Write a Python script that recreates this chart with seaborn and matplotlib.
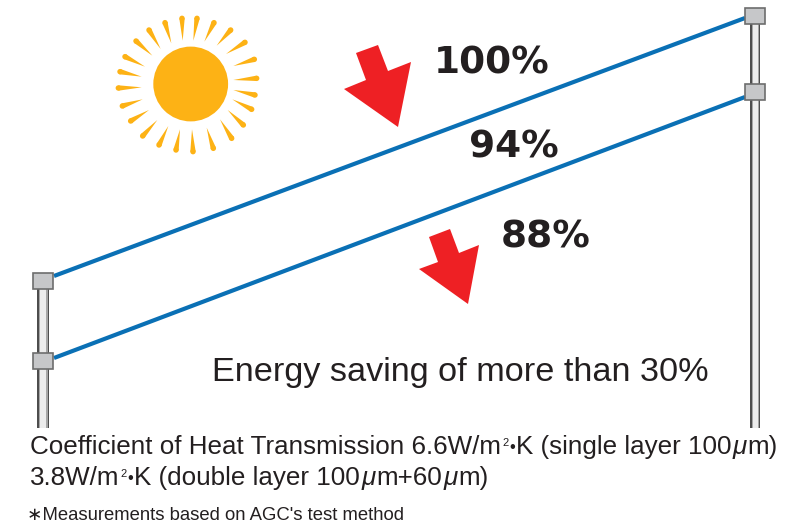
import pandas as pd
import matplotlib
matplotlib.use('Agg')
import matplotlib.pyplot as plt
import seaborn as sns
from matplotlib.patches import Polygon, Circle, Rectangle

sns.set_theme(style='white')
plt.rcParams['font.family'] = ['Liberation Sans', 'DejaVu Sans']

INK = '#231f20'
SUN = '#fdb215'
RED = '#ee2024'

# glass layers, left and right end
layer_names = ['single', 'double']
layer_x = [54, 745]
single_y = [276, 18]
double_y = [358, 97]

# posts
post_x = [43, 755]
post_w = [12, 10]
post_bottom = [428, 428]
post_top = [281, 16]

# brackets
bracket_x = [43, 43, 755, 755]
bracket_y = [281, 361, 16, 92]

# arrows
arrow1_x = [356, 378, 388, 411, 398, 344, 366]
arrow1_y = [53, 45, 71, 62, 127, 89, 80]
arrow2_x = [429, 450, 459, 479, 468, 419, 438]
arrow2_y = [237, 229, 253, 245, 304, 269, 262]

# percent labels
pct_labels = ['100%', '94%', '88%']
pct_x = [492, 514, 546]
pct_y = [63, 148, 238]

ray_tip_x = [246, 291, 342, 392, 435, 463, 470, 465, 455, 430, 395, 340, 279, 228, 177, 128, 92, 67, 55, 60, 75, 108, 147, 195]
ray_tip_y = [55, 55, 68, 90, 127, 178, 235, 285, 328, 375, 415, 445, 455, 450, 435, 408, 363, 318, 264, 215, 170, 123, 90, 68]
ray_in_x = [248, 280, 313, 350, 378, 400, 400, 400, 397, 383, 360, 320, 276, 240, 205, 172, 147, 128, 125, 125, 135, 157, 182, 214]
ray_in_y = [122, 122, 125, 137, 162, 198, 240, 270, 298, 330, 358, 383, 388, 388, 378, 360, 330, 298, 262, 230, 200, 167, 147, 130]
sun_x, sun_y, sun_r = 190.7, 84, 37.4

df = pd.DataFrame({
    'x': layer_x * 2,
    'y': single_y + double_y,
    'layer': [layer_names[0]] * 2 + [layer_names[1]] * 2,
})

fig = plt.figure(figsize=(8.10, 5.26), dpi=100)
ax = fig.add_axes([0, 0, 1, 1])
ax.set_xlim(0, 810)
ax.set_ylim(526, 0)
ax.axis('off')

# posts first so the brackets sit on top
for x, w, b, t in zip(post_x, post_w, post_bottom, post_top):
    ax.add_patch(Rectangle((x - w / 2, t), w, b - t, fc='#4d4d4d', ec='none', zorder=1))
    ax.add_patch(Rectangle((x - w / 2 + 1.5, t), w - 3, b - t, fc='#a6a6a6', ec='none', zorder=1.1))
    ax.add_patch(Rectangle((x - w / 4, t), w / 2, b - t, fc='#ececec', ec='none', zorder=1.2))

sns.lineplot(data=df, x='x', y='y', hue='layer', palette=['#0a70b5', '#0a70b5'],
             linewidth=3, legend=False, ax=ax, zorder=2, solid_capstyle='butt')
ax.axis('off')

for x, y in zip(bracket_x, bracket_y):
    ax.add_patch(Rectangle((x - 10, y - 8), 20, 16, fc='#c6c7c9', ec='#6d6d6d', lw=1.2, zorder=3))

# sun
ax.add_patch(Circle((sun_x, sun_y), sun_r, fc=SUN, ec='none', zorder=2))
for tx, ty, ix, iy in zip(ray_tip_x, ray_tip_y, ray_in_x, ray_in_y):
    tx, ty, ix, iy = 100 + tx / 3, ty / 3, 100 + ix / 3, iy / 3
    dx, dy = tx - ix, ty - iy
    ln = (dx ** 2 + dy ** 2) ** 0.5
    nx, ny = -dy / ln * 2.7, dx / ln * 2.7
    ax.add_patch(Polygon([(ix, iy), (tx + nx, ty + ny), (tx - nx, ty - ny)], fc=SUN, ec='none', zorder=2))
    ax.add_patch(Circle((tx, ty), 2.7, fc=SUN, ec='none', zorder=2))

# red arrows
ax.add_patch(Polygon(list(zip(arrow1_x, arrow1_y)), fc=RED, ec='none', zorder=4))
ax.add_patch(Polygon(list(zip(arrow2_x, arrow2_y)), fc=RED, ec='none', zorder=4))

for lab, x, y in zip(pct_labels, pct_x, pct_y):
    ax.text(x, y, lab, fontsize=27, fontweight='bold', family='DejaVu Sans', color=INK, ha='center', va='center')

ax.text(212, 373, 'Energy saving of more than 30%', fontsize=24.7, color=INK, va='center')


def run_text(x, y, pieces):
    # lay pieces side by side on one baseline, superscript and italic mu need their own size
    r = fig.canvas.get_renderer()
    for s, size, style, dy in pieces:
        t = ax.text(x, y + dy, s, fontsize=size, style=style, color=INK, va='baseline')
        x += t.get_window_extent(r).width + 1


SZ = 18.7
sup = ('2', 8, 'normal', -8)
dot = ('\u2022', 12, 'normal', -2)
mu = ('\u03bc', SZ, 'italic', 0)
run_text(30, 454, [('Coefficient of Heat Transmission 6.6W/m', SZ, 'normal', 0), sup, dot,
                   ('K (single layer 100', SZ, 'normal', 0), mu, ('m)', SZ, 'normal', 0)])
run_text(30, 485, [('3.8W/m', SZ, 'normal', 0), sup, dot,
                   ('K (double layer 100', SZ, 'normal', 0), mu, ('m+60', SZ, 'normal', 0), mu,
                   ('m)', SZ, 'normal', 0)])
ax.text(27, 516, '\u2217Measurements based on AGC\'s test method', fontsize=13.3, color=INK, va='center')

fig.savefig('out.png', dpi=100)
